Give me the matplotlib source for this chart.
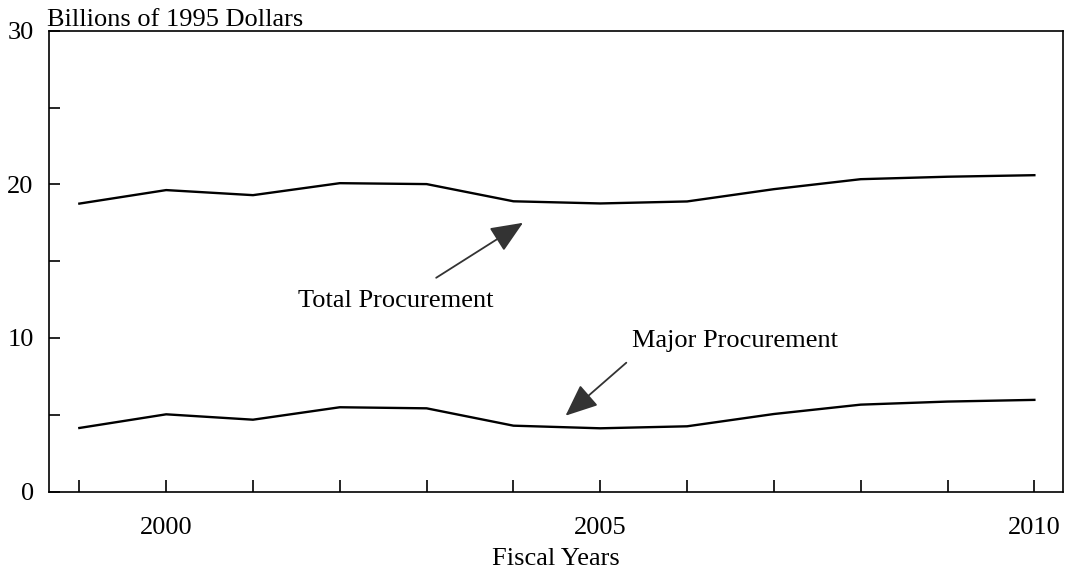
import matplotlib
matplotlib.use("Agg")
import matplotlib.pyplot as plt

years = [1999, 2000, 2001, 2002, 2003, 2004, 2005, 2006, 2007, 2008, 2009, 2010]
total_procurement = [18.75, 19.63, 19.3, 20.08, 20.02, 18.9, 18.76, 18.89, 19.69, 20.34, 20.5, 20.6]
major_procurement = [4.14, 5.03, 4.68, 5.49, 5.42, 4.29, 4.12, 4.25, 5.05, 5.66, 5.86, 5.97]
y_major_ticks = [0, 10, 20, 30]
y_minor_ticks = [5, 15, 25]
x_labels = [2000, 2005, 2010]

plt.rcParams['font.family'] = ['Liberation Serif', 'DejaVu Serif']

fig = plt.figure(figsize=(10.69, 5.75), dpi=100)
ax = fig.add_axes([0.0458, 0.1451, 0.9486, 0.8013])

ax.plot(years, total_procurement, color='black', lw=1.7)
ax.plot(years, major_procurement, color='black', lw=1.7)

ax.set_xlim(1998.65, 2010.33)
ax.set_ylim(0, 30)

ax.set_yticks(y_major_ticks)
ax.set_yticks(y_minor_ticks, minor=True)
ax.set_xticks(years, minor=True)
ax.set_xticks(x_labels)
ax.tick_params(axis='both', which='both', direction='in', width=1.2, color='black')
ax.tick_params(axis='y', which='both', length=8, labelsize=19, pad=11)
ax.tick_params(axis='x', which='both', length=9, labelsize=19, pad=18)
ax.tick_params(top=False, right=False)
for s in ax.spines.values():
    s.set_linewidth(1.2)

ax.set_xlabel('Fiscal Years', fontsize=19, labelpad=7)
ax.text(-0.002, 1.0, 'Billions of 1995 Dollars', transform=ax.transAxes,
        fontsize=19, ha='left', va='bottom')

arrow_kw = dict(arrowstyle='-|>,head_length=2.0,head_width=0.85', color='#333333',
                lw=1.3, shrinkA=0, shrinkB=0)
ax.annotate('', xy=(2004.11, 17.5), xytext=(2003.11, 13.92), arrowprops=arrow_kw)
ax.annotate('', xy=(2004.6, 4.94), xytext=(2005.3, 8.39), arrowprops=arrow_kw)
ax.text(2002.65, 12.4, 'Total Procurement', fontsize=19, ha='center', va='center')
ax.text(2005.37, 9.8, 'Major Procurement', fontsize=19, ha='left', va='center')

fig.savefig('out.png', dpi=100)
